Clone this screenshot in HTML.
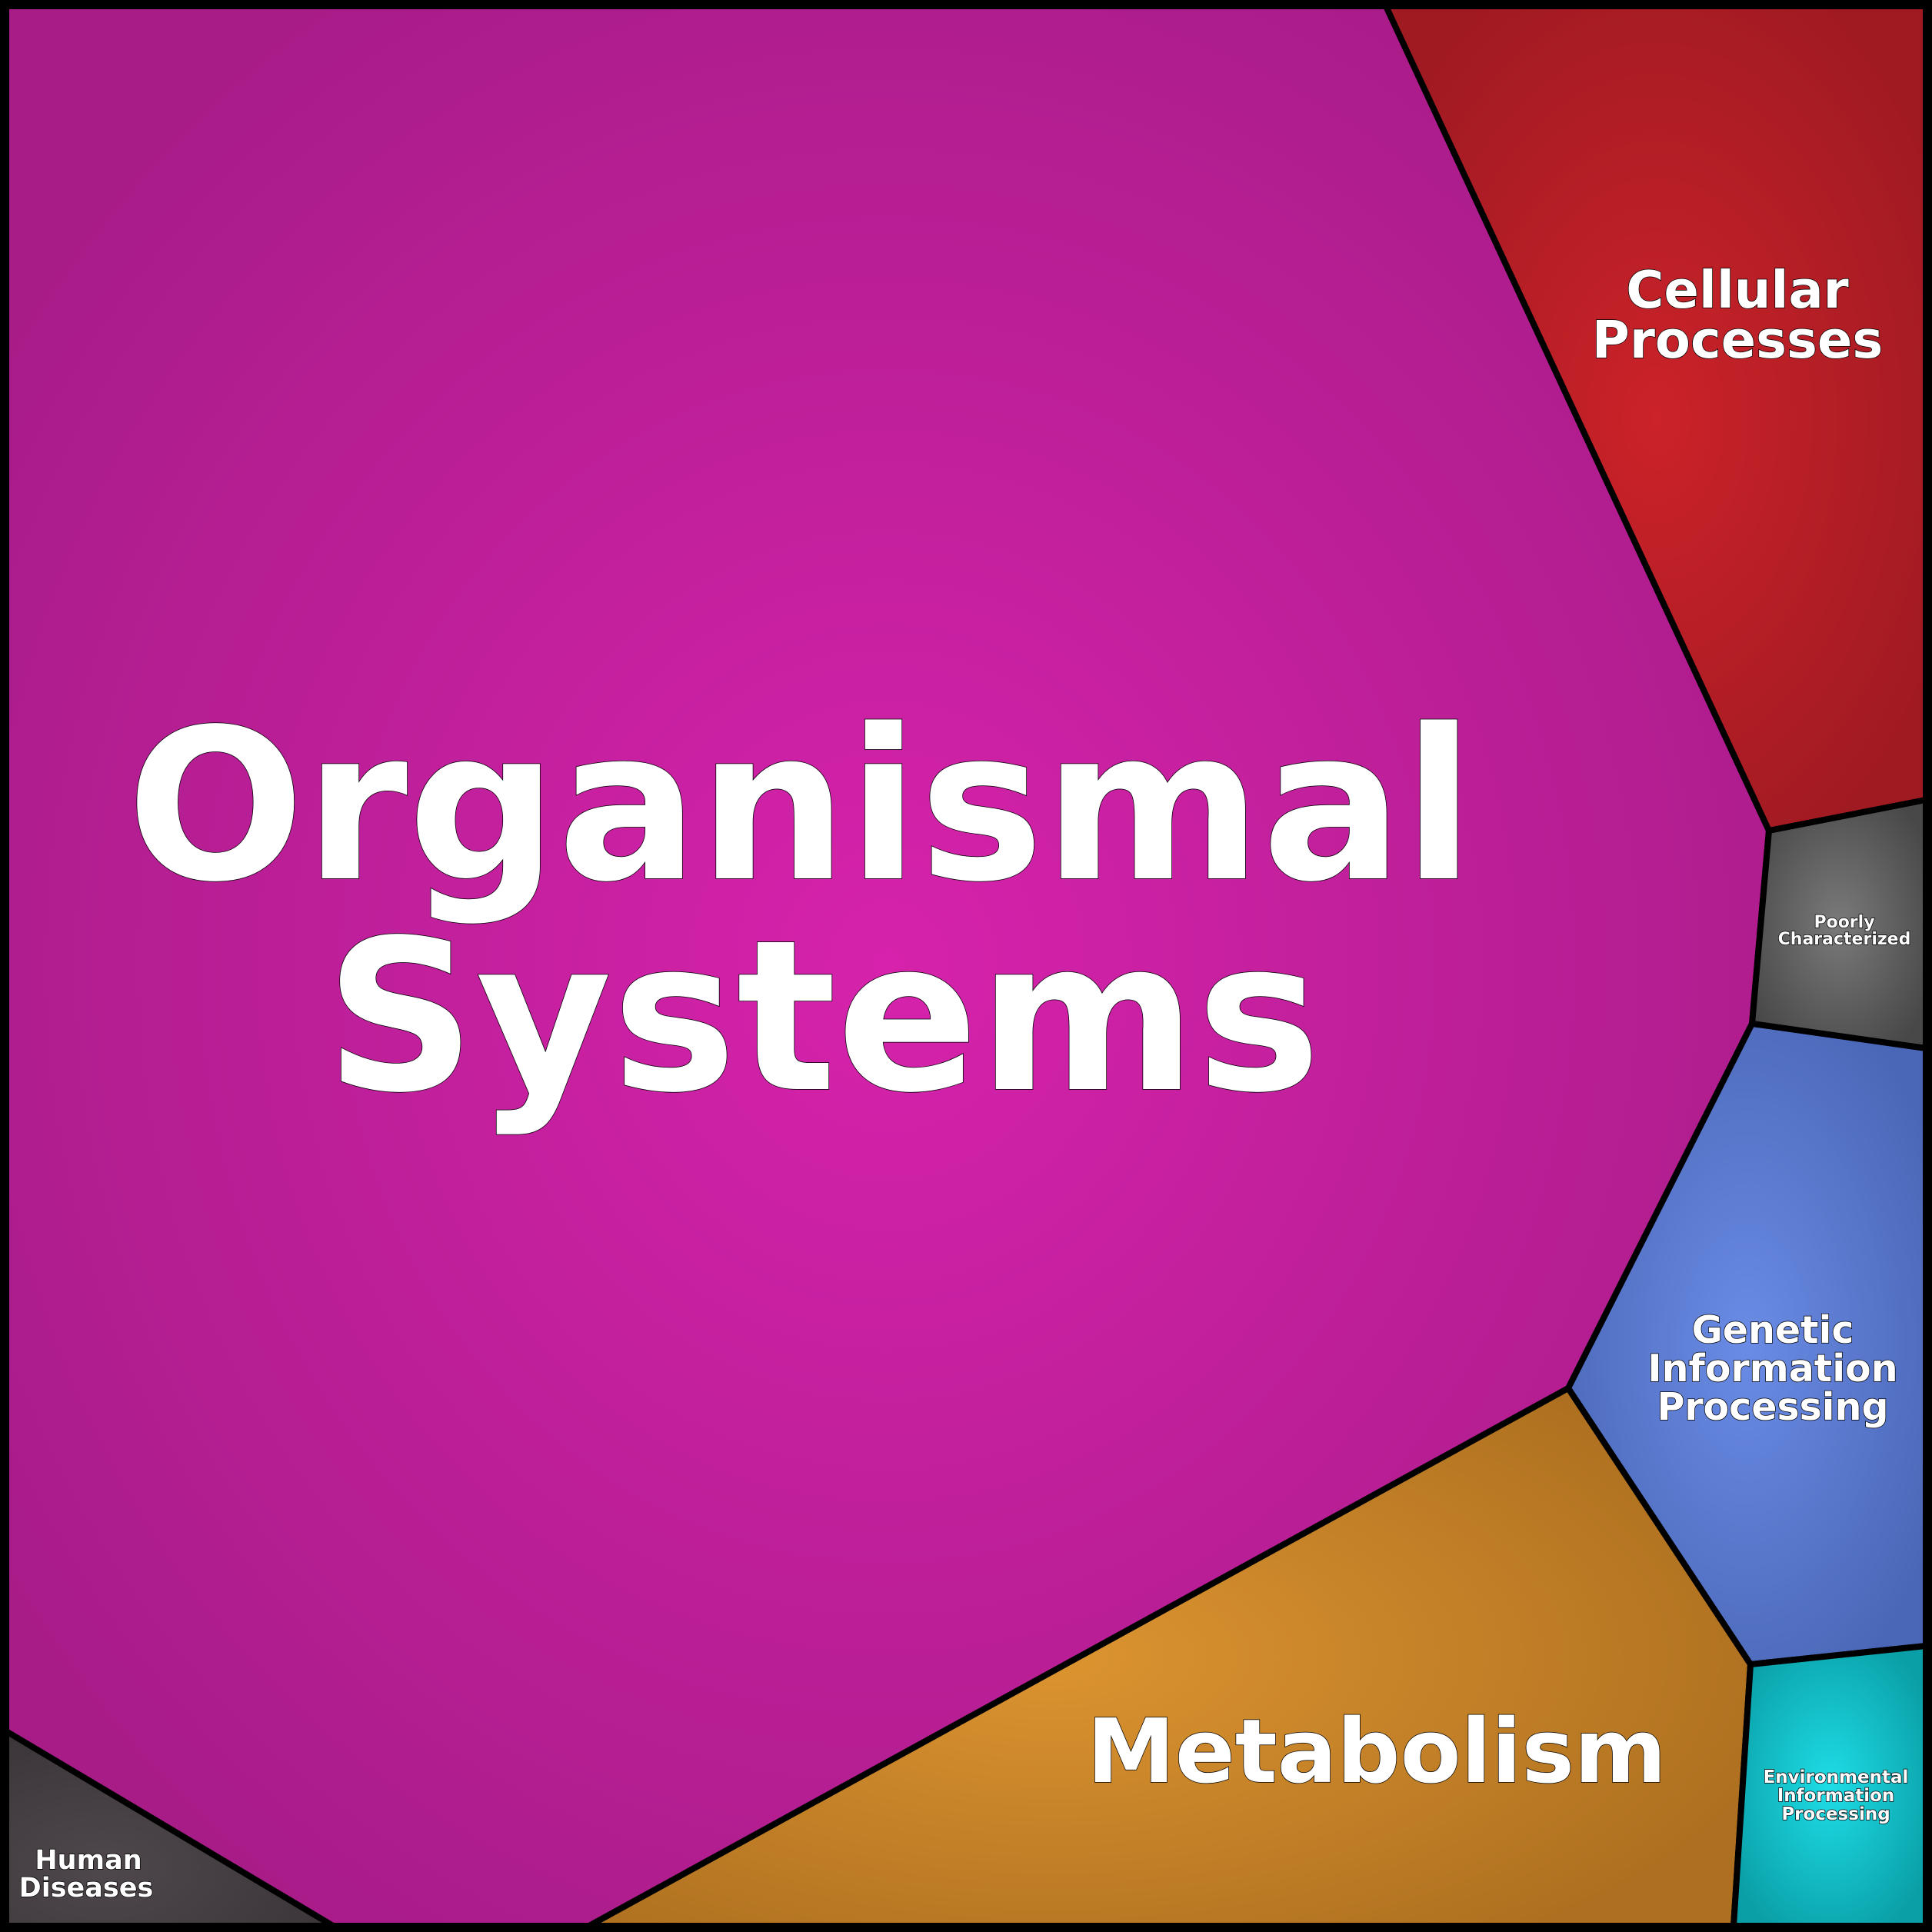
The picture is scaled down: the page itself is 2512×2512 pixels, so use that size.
<!DOCTYPE html>
<html><head><meta charset="utf-8"><style>
html,body{margin:0;padding:0;background:#000}
svg{display:block}
text{font-family:"DejaVu Sans","Liberation Sans",sans-serif;font-weight:bold;fill:#fff;stroke:#000;stroke-width:1.5;paint-order:stroke;text-anchor:middle}
</style></head><body>
<svg width="2512" height="2512" viewBox="0 0 2512 2512" xmlns="http://www.w3.org/2000/svg">
<defs>
<radialGradient id="gp" cx="0.5" cy="0.5" r="0.6"><stop offset="0" stop-color="#d622ac"/><stop offset="1" stop-color="#a81c88"/></radialGradient>
<radialGradient id="gr" cx="0.5" cy="0.5" r="0.6"><stop offset="0" stop-color="#cc2229"/><stop offset="1" stop-color="#a01a22"/></radialGradient>
<radialGradient id="gg" cx="0.5" cy="0.5" r="0.6"><stop offset="0" stop-color="#7a7a7a"/><stop offset="1" stop-color="#484848"/></radialGradient>
<radialGradient id="gb" cx="0.5" cy="0.5" r="0.6"><stop offset="0" stop-color="#6a8ce6"/><stop offset="1" stop-color="#4a66b6"/></radialGradient>
<radialGradient id="go" cx="0.4" cy="0.5" r="0.65"><stop offset="0" stop-color="#dc9430"/><stop offset="1" stop-color="#ae7020"/></radialGradient>
<radialGradient id="gc" cx="0.5" cy="0.5" r="0.6"><stop offset="0" stop-color="#1edde6"/><stop offset="1" stop-color="#0a9ea6"/></radialGradient>
<radialGradient id="gh" cx="0.3" cy="0.7" r="0.8"><stop offset="0" stop-color="#4e474c"/><stop offset="1" stop-color="#3a3438"/></radialGradient>
</defs>
<g stroke="#000" stroke-width="8" stroke-linejoin="round">
<polygon points="8,8 1802,8 2300,1080 2278,1331 2039,1805 766,2504 433,2504 8,2251" fill="url(#gp)"/>
<polygon points="1802,8 2504,8 2504,1040 2300,1080" fill="url(#gr)"/>
<polygon points="2300,1080 2504,1040 2504,1363 2278,1331" fill="url(#gg)"/>
<polygon points="2278,1331 2504,1363 2504,2140 2276,2164 2039,1805" fill="url(#gb)"/>
<polygon points="2039,1805 2276,2164 2254,2504 766,2504" fill="url(#go)"/>
<polygon points="2276,2164 2504,2140 2504,2504 2254,2504" fill="url(#gc)"/>
<polygon points="8,2251 433,2504 8,2504" fill="url(#gh)"/>
</g>
<rect x="4" y="4" width="2504" height="2504" fill="none" stroke="#000" stroke-width="10"/>
<text x="1041" y="1142" font-size="272" stroke-width="2">Organismal</text>
<text x="1070" y="1416" font-size="272" stroke-width="2">Systems</text>
<text x="2259" y="400" font-size="67">Cellular</text>
<text x="2259" y="465" font-size="67">Processes</text>
<text x="2305" y="1746" font-size="49">Genetic</text>
<text x="2305" y="1796" font-size="49">Information</text>
<text x="2305" y="1846" font-size="49">Processing</text>
<text x="1790" y="2317" font-size="115" stroke-width="2">Metabolism</text>
<text x="115" y="2430" font-size="35">Human</text>
<text x="112" y="2466" font-size="35">Diseases</text>
<text x="2398" y="1206" font-size="22">Poorly</text>
<text x="2398" y="1228" font-size="22">Characterized</text>
<text x="2387" y="2318" font-size="23">Environmental</text>
<text x="2387" y="2342" font-size="23">Information</text>
<text x="2387" y="2366" font-size="23">Processing</text>
</svg>
</body></html>
